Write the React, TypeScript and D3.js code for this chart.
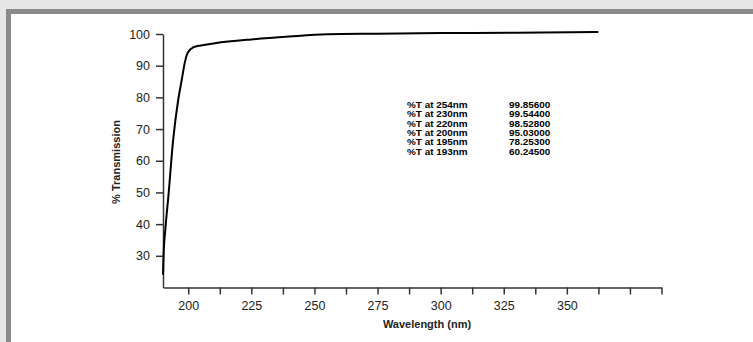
import React, { useRef, useEffect } from "react";
import * as d3 from "d3";

// wavelength (nm) / %T
const wavelengths = [190, 190.2, 191, 192.1, 194, 196, 197.4, 198.7, 199.8, 202, 205, 210.6, 225, 240, 255, 275, 300, 330, 362.5];
const transmission = [24, 29.5, 39, 48.5, 66.4, 79.1, 85.4, 91.2, 94.1, 95.8, 96.4, 97.1, 98.3, 99.2, 99.9, 100.1, 100.3, 100.4, 100.6];

const yTicks = [30, 40, 50, 60, 70, 80, 90, 100];
const xTicks = [200, 212.5, 225, 237.5, 250, 262.5, 275, 287.5, 300, 312.5, 325, 337.5, 350, 362.5, 375, 387.5];
const xLabelled = [200, 225, 250, 275, 300, 325, 350];

const tableLabels = ["%T at 254nm", "%T at 230nm", "%T at 220nm", "%T at 200nm", "%T at 195nm", "%T at 193nm"];
const tableValues = ["99.85600", "99.54400", "98.52800", "95.03000", "78.25300", "60.24500"];

const W = 753;
const H = 342;
const FONT = "'Liberation Sans', Arial, sans-serif";

const App: React.FC = () => {
  const svgRef = useRef<SVGSVGElement | null>(null);

  useEffect(() => {
    const svg = d3.select(svgRef.current);
    svg.selectAll("*").remove();

    // frame
    svg.append("rect").attr("width", W).attr("height", H).attr("fill", "#e6e6e6");
    svg.append("rect").attr("x", 6).attr("y", 9).attr("width", W - 6).attr("height", H - 9).attr("fill", "#8a8a8a");
    svg.append("rect").attr("x", 11).attr("y", 14).attr("width", W - 11).attr("height", H - 14).attr("fill", "#fff");

    const x = d3.scaleLinear().domain([190, 387.5]).range([163, 661.5]);
    const y = d3.scaleLinear().domain([20, 100]).range([287.5, 34]);

    const yAxis = d3.axisLeft(y).tickValues(yTicks).tickSize(7).tickSizeOuter(0).tickPadding(6);
    const xAxis = d3
      .axisBottom(x)
      .tickValues(xTicks)
      .tickSize(7)
      .tickSizeOuter(0)
      .tickPadding(7)
      .tickFormat((d) => (xLabelled.includes(+d) ? String(d) : ""));

    const gy = svg.append("g").attr("transform", `translate(${x(190)},0)`).call(yAxis);
    const gx = svg.append("g").attr("transform", `translate(0,${y(20)})`).call(xAxis);

    [gx, gy].forEach((g) => {
      g.selectAll("path, line").attr("stroke", "#333").attr("stroke-width", 1.5);
      g.selectAll("text").attr("fill", "#222").style("font-family", FONT).style("font-size", "12.5px");
    });

    // curve
    const pts: [number, number][] = wavelengths.map((w, i) => [w, transmission[i]]);
    const line = d3
      .line<[number, number]>()
      .x((d) => x(d[0]))
      .y((d) => y(d[1]))
      .curve(d3.curveMonotoneX);
    svg.append("path").attr("d", line(pts)).attr("fill", "none").attr("stroke", "#000").attr("stroke-width", 2);

    // axis titles
    svg.append("text")
      .attr("transform", `translate(120,162) rotate(-90)`)
      .attr("text-anchor", "middle")
      .style("font-family", FONT)
      .style("font-size", "11px")
      .style("font-weight", "bold")
      .attr("fill", "#222")
      .text("% Transmission");

    svg.append("text")
      .attr("x", 427)
      .attr("y", 328)
      .attr("text-anchor", "middle")
      .style("font-family", FONT)
      .style("font-size", "11px")
      .style("font-weight", "bold")
      .attr("fill", "#222")
      .text("Wavelength (nm)");

    // %T table (slightly stretched, tight rows like the original)
    const table = svg.append("g").attr("transform", "translate(407,108)");
    tableLabels.forEach((lab, i) => {
      const row = table.append("g").attr("transform", `translate(0,${i * 9.33}) scale(1.13,1)`);
      row.append("text")
        .attr("x", 0)
        .style("font-family", FONT)
        .style("font-size", "8.8px")
        .style("font-weight", "bold")
        .attr("fill", "#000")
        .text(lab);
      row.append("text")
        .attr("x", 102 / 1.13)
        .style("font-family", FONT)
        .style("font-size", "8.8px")
        .style("font-weight", "bold")
        .attr("fill", "#000")
        .text(tableValues[i]);
    });
  }, []);

  return (
    <div style={{ position: "fixed", left: 0, top: 0 }}>
      <svg ref={svgRef} width={W} height={H} style={{ display: "block" }} />
    </div>
  );
};

export default App;
